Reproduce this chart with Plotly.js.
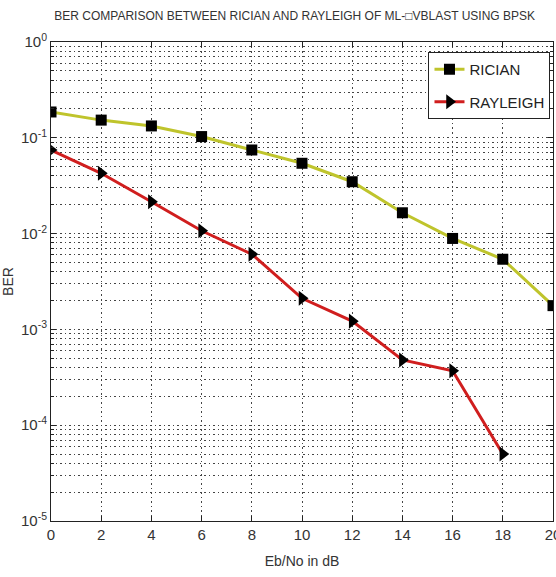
<!DOCTYPE html>
<html>
<head>
<meta charset="utf-8">
<script src="https://cdn.plot.ly/plotly-3.0.1.min.js"></script>
<style>html,body{margin:0;padding:0;background:#fff;}#chart{width:556px;height:577px;}</style>
</head>
<body>
<div id="chart"></div>
<script>
const ebno = [0, 2, 4, 6, 8, 10, 12, 14, 16, 18, 20];
const ricianBER = [0.186, 0.153, 0.133, 0.103, 0.0746, 0.0542, 0.0348, 0.0165, 0.0089, 0.0054, 0.00177];
const rayleighEbNo = [0, 2, 4, 6, 8, 10, 12, 14, 16, 18];
const rayleighBER = [0.0746, 0.0426, 0.0215, 0.0107, 0.0061, 0.00211, 0.00122, 0.00048, 0.00037, 0.00005];
const yTickVals = [1e-5, 1e-4, 1e-3, 1e-2, 1e-1, 1];
const yTickText = ["10<sup>-5</sup>", "10<sup>-4</sup>", "10<sup>-3</sup>", "10<sup>-2</sup>", "10<sup>-1</sup>", "10<sup>0</sup>"];
const xTickVals = [0, 2, 4, 6, 8, 10, 12, 14, 16, 18, 20];

const fontFam = '"Liberation Sans Narrow", "Liberation Sans", Arial, sans-serif';
const gridDash = '1.5px,3px';

const traces = [
  {
    x: ebno, y: ricianBER, name: 'RICIAN', mode: 'lines+markers', legendgroup: 'a',
    line: {color: '#bfc42c', width: 3},
    marker: {symbol: 'square', size: 11, color: '#000'}
  },
  {
    x: rayleighEbNo, y: rayleighBER, name: 'RAYLEIGH', mode: 'lines+markers', legendgroup: 'b',
    line: {color: '#d01e1e', width: 3},
    marker: {symbol: 'triangle-right', size: 13, color: '#000'}
  }
];

const layout = {
  width: 556, height: 577,
  margin: {l: 51, r: 3, t: 42, b: 56},
  paper_bgcolor: '#fff', plot_bgcolor: '#fff',
  font: {family: fontFam, color: '#222'},
  title: {
    text: 'BER COMPARISON BETWEEN RICIAN AND RAYLEIGH OF ML-\u25A1VBLAST USING BPSK',
    font: {size: 12, color: '#333', family: fontFam},
    x: 0.53, xanchor: 'center', y: 0.972, yanchor: 'middle'
  },
  xaxis: {
    range: [0, 20], tickvals: xTickVals, ticktext: xTickVals.map(String),
    ticklabeloverflow: 'allow',
    showline: true, linecolor: '#222', linewidth: 1, mirror: 'ticks',
    ticks: 'inside', ticklen: 5, tickcolor: '#222',
    showgrid: true, gridcolor: '#444', griddash: gridDash, gridwidth: 1,
    zeroline: false,
    tickfont: {size: 15, color: '#333'},
    title: {text: 'Eb/No in dB', font: {size: 14, color: '#333'}, standoff: 14}
  },
  yaxis: {
    type: 'log', range: [-5, 0],
    tickvals: yTickVals, ticktext: yTickText,
    showline: true, linecolor: '#222', linewidth: 1, mirror: 'ticks',
    ticks: 'inside', ticklen: 5, tickcolor: '#222',
    showgrid: true, gridcolor: '#444', griddash: gridDash, gridwidth: 1,
    minor: {dtick: 'D1', showgrid: true, gridcolor: '#444', griddash: gridDash, ticks: 'inside', ticklen: 3, tickcolor: '#222'},
    zeroline: false,
    tickfont: {size: 15, color: '#333'},
    title: {text: 'BER', font: {size: 14, color: '#333'}, standoff: 10}
  },
  legend: {
    x: 0.995, y: 0.979, xanchor: 'right', yanchor: 'top',
    bgcolor: '#fff', bordercolor: '#222', borderwidth: 1,
    traceorder: 'grouped', tracegroupgap: 10, itemwidth: 30,
    font: {size: 15, color: '#222'}
  },
  showlegend: true
};

Plotly.newPlot('chart', traces, layout, {displayModeBar: false, staticPlot: true});
</script>
</body>
</html>
